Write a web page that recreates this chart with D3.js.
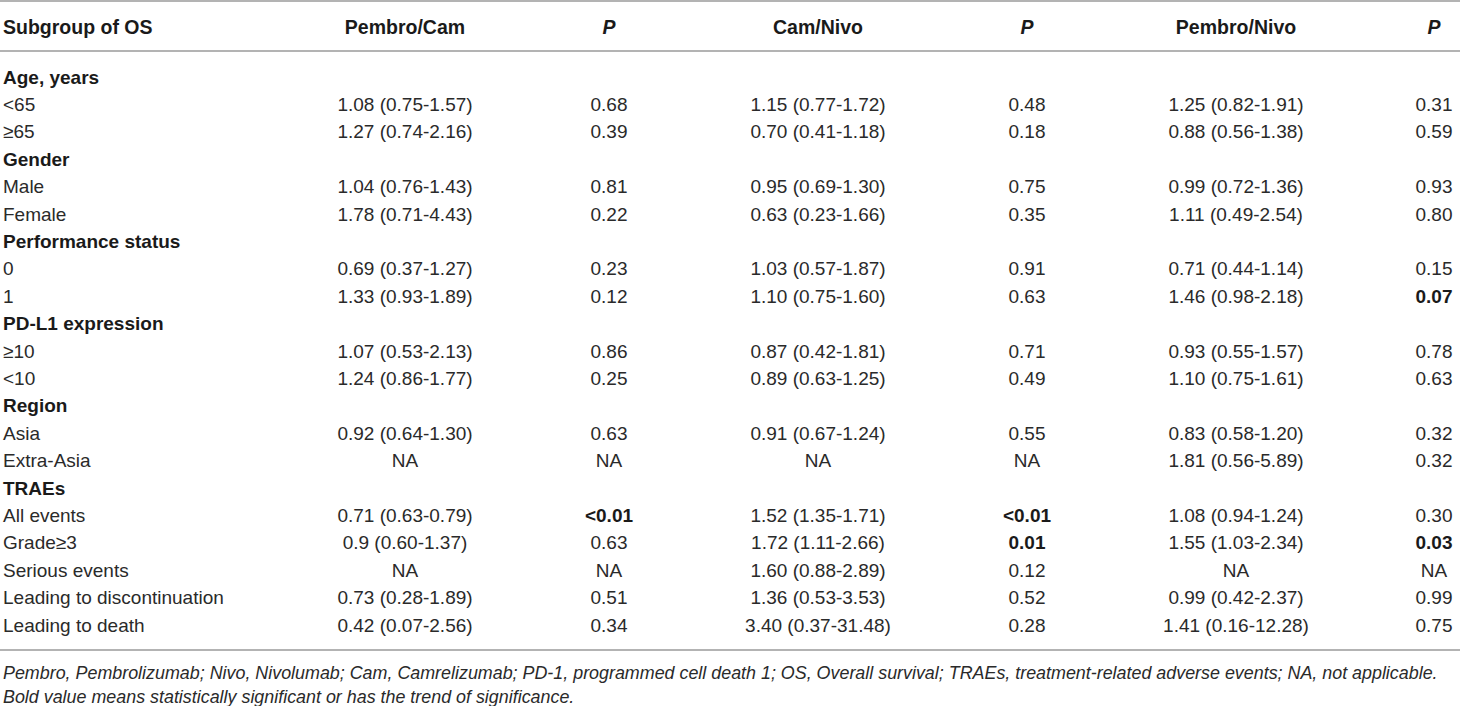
<!DOCTYPE html>
<html>
<head>
<meta charset="utf-8">
<script src="https://cdn.jsdelivr.net/npm/d3@7"></script>
<style>
  html, body { margin: 0; padding: 0; background: #fff; }
  svg { display: block; }
</style>
</head>
<body>
<div id="table"></div>
<script>
// Table values
const columns = ["Subgroup of OS", "Pembro/Cam", "P", "Cam/Nivo", "P", "Pembro/Nivo", "P"];

const subgroups = [
    "Age, years", "<65", "\u226565",
    "Gender", "Male", "Female",
    "Performance status", "0", "1",
    "PD-L1 expression", "\u226510", "<10",
    "Region", "Asia", "Extra-Asia",
    "TRAEs", "All events", "Grade\u22653", "Serious events", "Leading to discontinuation", "Leading to death"
];

const groupHeaders = ["Age, years", "Gender", "Performance status", "PD-L1 expression", "Region", "TRAEs"];

const pembroCam = ["", "1.08 (0.75-1.57)", "1.27 (0.74-2.16)", "", "1.04 (0.76-1.43)", "1.78 (0.71-4.43)",
    "", "0.69 (0.37-1.27)", "1.33 (0.93-1.89)", "", "1.07 (0.53-2.13)", "1.24 (0.86-1.77)",
    "", "0.92 (0.64-1.30)", "NA", "", "0.71 (0.63-0.79)", "0.9 (0.60-1.37)", "NA", "0.73 (0.28-1.89)", "0.42 (0.07-2.56)"];
const pPembroCam = ["", "0.68", "0.39", "", "0.81", "0.22",
    "", "0.23", "0.12", "", "0.86", "0.25",
    "", "0.63", "NA", "", "<0.01", "0.63", "NA", "0.51", "0.34"];

const camNivo = ["", "1.15 (0.77-1.72)", "0.70 (0.41-1.18)", "", "0.95 (0.69-1.30)", "0.63 (0.23-1.66)",
    "", "1.03 (0.57-1.87)", "1.10 (0.75-1.60)", "", "0.87 (0.42-1.81)", "0.89 (0.63-1.25)",
    "", "0.91 (0.67-1.24)", "NA", "", "1.52 (1.35-1.71)", "1.72 (1.11-2.66)", "1.60 (0.88-2.89)", "1.36 (0.53-3.53)", "3.40 (0.37-31.48)"];
const pCamNivo = ["", "0.48", "0.18", "", "0.75", "0.35",
    "", "0.91", "0.63", "", "0.71", "0.49",
    "", "0.55", "NA", "", "<0.01", "0.01", "0.12", "0.52", "0.28"];

const pembroNivo = ["", "1.25 (0.82-1.91)", "0.88 (0.56-1.38)", "", "0.99 (0.72-1.36)", "1.11 (0.49-2.54)",
    "", "0.71 (0.44-1.14)", "1.46 (0.98-2.18)", "", "0.93 (0.55-1.57)", "1.10 (0.75-1.61)",
    "", "0.83 (0.58-1.20)", "1.81 (0.56-5.89)", "", "1.08 (0.94-1.24)", "1.55 (1.03-2.34)", "NA", "0.99 (0.42-2.37)", "1.41 (0.16-12.28)"];
const pPembroNivo = ["", "0.31", "0.59", "", "0.93", "0.80",
    "", "0.15", "0.07", "", "0.78", "0.63",
    "", "0.32", "0.32", "", "0.30", "0.03", "NA", "0.99", "0.75"];

// significant (or trend) P values shown in bold: [column index, row label]
const boldCells = [[2, "All events"], [4, "All events"], [4, "Grade\u22653"], [6, "1"], [6, "Grade\u22653"]];

const footnotes = [
    "Pembro, Pembrolizumab; Nivo, Nivolumab; Cam, Camrelizumab; PD-1, programmed cell death 1; OS, Overall survival; TRAEs, treatment-related adverse events; NA, not applicable.",
    "Bold value means statistically significant or has the trend of significance."
];

const width = 1460, height = 706;
const font = "'Liberation Sans', Arial, Helvetica, sans-serif";
const fontSize = 19;

const svg = d3.select("#table")
    .append("svg")
    .attr("width", width)
    .attr("height", height)
    .style("font-family", font)
    .style("font-size", fontSize + "px");

const valueCols = [pembroCam, pPembroCam, camNivo, pCamNivo, pembroNivo, pPembroNivo];

// column centres (column 0 is left aligned)
const x = d3.scaleOrdinal()
    .domain(d3.range(columns.length))
    .range([3, 405, 609, 818, 1027, 1236, 1434]);

// row centres
const y = d3.scalePoint()
    .domain(d3.range(subgroups.length))
    .range([77, 625]);

const headerY = 27;
const ruleY = [1, 51, 650];
const footY = d3.scalePoint().domain(d3.range(footnotes.length)).range([673, 697]);

svg.selectAll("line.rule")
    .data(ruleY)
    .enter().append("line")
    .attr("class", "rule")
    .attr("x1", 0)
    .attr("x2", width)
    .attr("y1", d => d)
    .attr("y2", d => d)
    .attr("stroke", "#9a9a9a")
    .attr("stroke-width", 1.5);

// header
svg.selectAll("text.head")
    .data(columns)
    .enter().append("text")
    .attr("class", "head")
    .attr("x", (d, i) => x(i))
    .attr("y", headerY)
    .attr("dy", "0.35em")
    .attr("text-anchor", (d, i) => i === 0 ? "start" : "middle")
    .attr("font-weight", "bold")
    .attr("font-size", "19.5px")
    .attr("font-style", d => d === "P" ? "italic" : "normal")
    .attr("fill", "#1a1a1a")
    .text(d => d);

// first column
svg.selectAll("text.label")
    .data(subgroups)
    .enter().append("text")
    .attr("class", "label")
    .attr("x", x(0))
    .attr("y", (d, i) => y(i))
    .attr("dy", "0.35em")
    .attr("font-weight", d => groupHeaders.includes(d) ? "bold" : "normal")
    .attr("fill", d => groupHeaders.includes(d) ? "#1a1a1a" : "#2a2a2a")
    .text(d => d);

// value cells
const cells = [];
valueCols.forEach((col, c) => {
    col.forEach((v, r) => {
        if (v !== "") cells.push({ col: c + 1, row: r, value: v });
    });
});

const isBold = d => boldCells.some(b => b[0] === d.col && b[1] === subgroups[d.row]);

svg.selectAll("text.cell")
    .data(cells)
    .enter().append("text")
    .attr("class", "cell")
    .attr("x", d => x(d.col))
    .attr("y", d => y(d.row))
    .attr("dy", "0.35em")
    .attr("text-anchor", "middle")
    .attr("font-weight", d => isBold(d) ? "bold" : "normal")
    .attr("fill", d => isBold(d) ? "#1a1a1a" : "#2a2a2a")
    .text(d => d.value);

// footnotes, sized so the long line ends where the reference does
const foot = svg.selectAll("text.foot")
    .data(footnotes)
    .enter().append("text")
    .attr("class", "foot")
    .attr("x", 3)
    .attr("y", (d, i) => footY(i))
    .attr("dy", "0.35em")
    .attr("font-style", "italic")
    .attr("fill", "#2a2a2a")
    .text(d => d);

const longest = d3.max(foot.nodes(), n => n.getComputedTextLength());
const footSize = Math.min(fontSize, fontSize * 1435 / longest);
foot.attr("font-size", footSize + "px");
</script>
</body>
</html>
